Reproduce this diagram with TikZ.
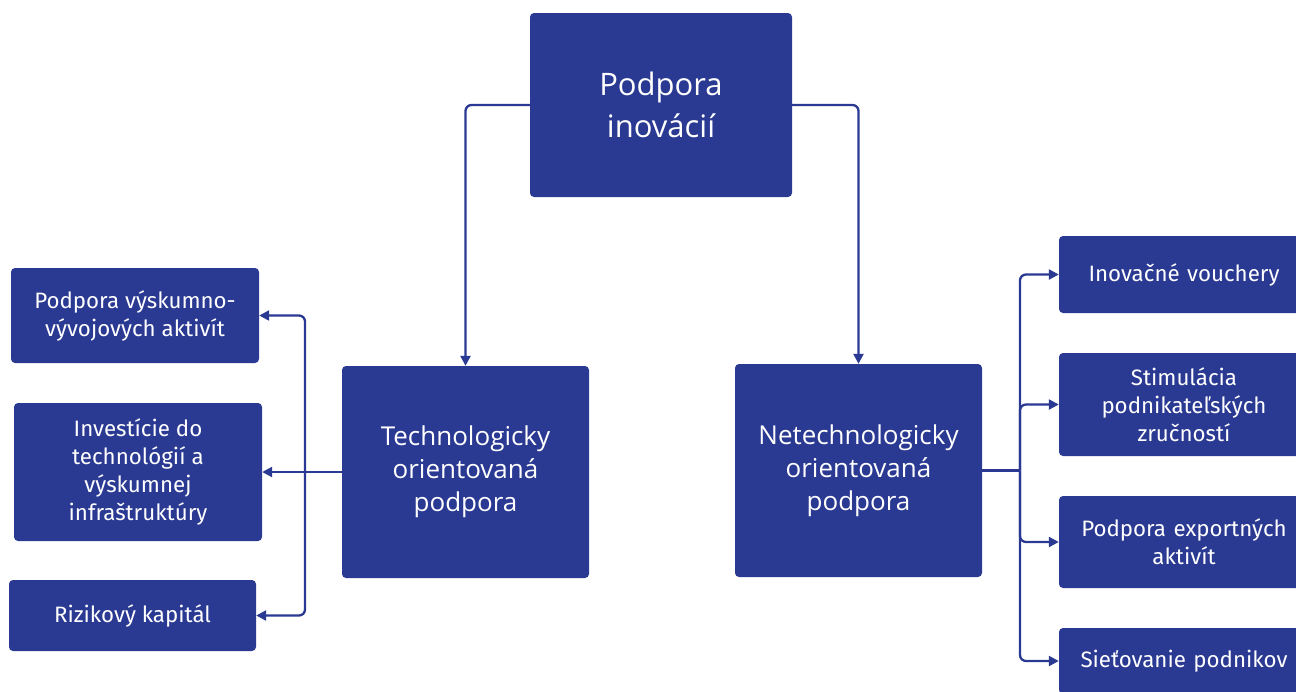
\documentclass[tikz,border=0pt]{standalone}
\usepackage{fontspec}
\setmainfont{Fira Sans}
\newfontfamily\opensans{Open Sans}
\usetikzlibrary{arrows.meta}
\definecolor{boxblue}{RGB}{42,57,146}
\tikzset{
  box/.style={draw=none, fill=boxblue, rounded corners=4pt, text=white, align=center, inner sep=0pt},
  big/.style={box, font=\opensans\fontsize{31}{42}\selectfont},
  mid/.style={box, font=\opensans\fontsize{26}{33}\selectfont},
  small/.style={box, font=\fontsize{22.3}{28}\selectfont},
  conn/.style={draw=boxblue, line width=2.3pt, rounded corners=6pt, -{Triangle[length=10pt,width=10pt]}},
}
\begin{document}
\begin{tikzpicture}[x=1pt,y=-1pt]
\useasboundingbox (0,0) rectangle (1296,691);
\clip (0,0) rectangle (1296,691);
\node[big, minimum width=262pt, minimum height=184pt] (top) at (661,105) {Podpora\\inovácií};
\node[mid, minimum width=247pt, minimum height=212pt] (tech) at (465.5,472) {Technologicky\\orientovaná\\podpora};
\node[mid, minimum width=247pt, minimum height=213pt] (netech) at (858.5,470.5) {Netechnologicky\\orientovaná\\podpora};
\node[small, minimum width=248pt, minimum height=95pt] (l1) at (135,315.5) {Podpora výskumno-\\vývojových aktivít};
\node[small, minimum width=248pt, minimum height=138pt] (l2) at (138,472) {Investície do\\technológií a\\výskumnej\\infraštruktúry};
\node[small, minimum width=247pt, minimum height=71pt] (l3) at (132.5,615.5) {Rizikový kapitál};
\node[small, minimum width=250pt, minimum height=77pt, text width=240pt] (r1) at (1184,274.5) {Inovačné vouchery};
\node[small, minimum width=250pt, minimum height=103pt, text width=240pt] (r2) at (1184,404.5) {Stimulácia\\podnikateľských\\zručností};
\node[small, minimum width=250pt, minimum height=92pt, text width=240pt] (r3) at (1184,542) {Podpora exportných\\aktivít};
\node[small, minimum width=250pt, minimum height=66pt, text width=240pt] (r4) at (1184,661) {Sieťovanie podnikov};
\coordinate (lb) at (305,472);
\coordinate (rb) at (1020,470.5);
\draw[conn] (top.west) -- (top.west -| tech.north) -- (tech.north);
\draw[conn] (top.east) -- (top.east -| netech.north) -- (netech.north);
\draw[conn] (tech.west) -- (l2.east);
\draw[conn] (lb) -- (lb |- l1.east) -- (l1.east);
\draw[conn] (lb) -- (lb |- l3.east) -- (l3.east);
\draw[draw=boxblue, line width=2.3pt] (netech.east) -- (rb);
\draw[conn] (rb) -- (rb |- r1.west) -- (r1.west);
\draw[conn] (rb) -- (rb |- r2.west) -- (r2.west);
\draw[conn] (rb) -- (rb |- r3.west) -- (r3.west);
\draw[conn] (rb) -- (rb |- r4.west) -- (r4.west);
\end{tikzpicture}
\end{document}
